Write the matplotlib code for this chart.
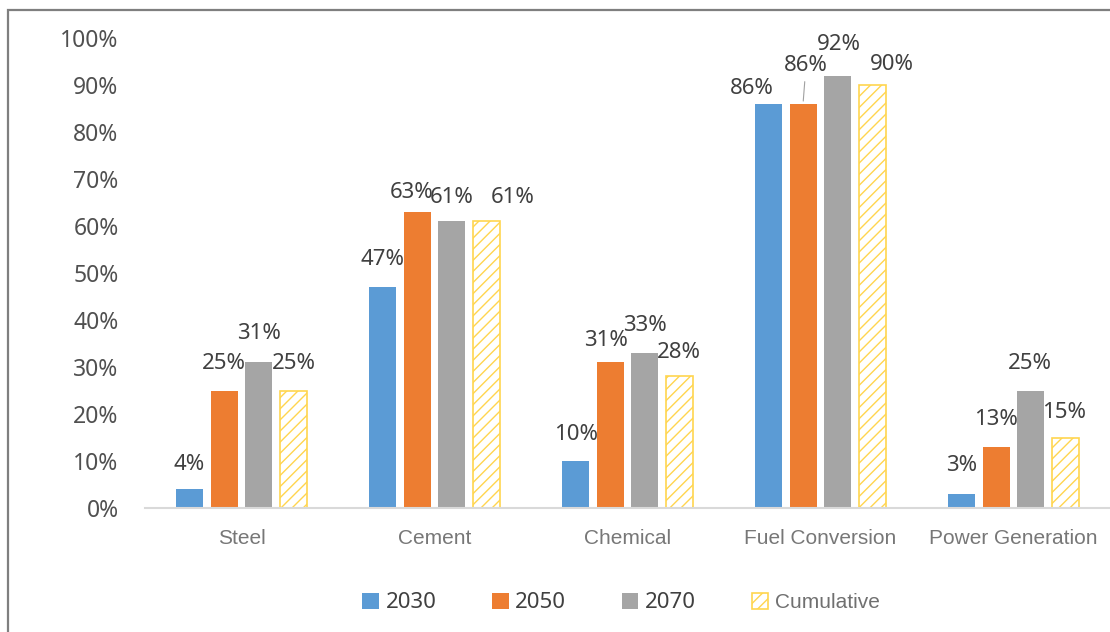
import matplotlib
matplotlib.use("Agg")
import matplotlib.pyplot as plt
from matplotlib.patches import Patch, Rectangle
import numpy as np

categories = ["Steel", "Cement", "Chemical", "Fuel Conversion", "Power Generation"]
series_names = ["2030", "2050", "2070", "Cumulative"]
v2030 = [4, 47, 10, 86, 3]
v2050 = [25, 63, 31, 86, 13]
v2070 = [31, 61, 33, 92, 25]
vcum = [25, 61, 28, 90, 15]
y_ticks = [0, 10, 20, 30, 40, 50, 60, 70, 80, 90, 100]
y_tick_labels = [f"{t}%" for t in y_ticks]

series = [v2030, v2050, v2070, vcum]
colors = ["#5B9BD5", "#ED7D31", "#A5A5A5", "white"]
edges = ["#5B9BD5", "#ED7D31", "#A5A5A5", "#FFD54F"]
hatches = [None, None, None, "///"]

# label offsets (pixels, dx, dy from bar top) per series per category
label_off = [
    [(0, 25), (0, 28), (1, 27), (-16, 15), (1, 28)],
    [(0, 27), (-5, 19), (-4, 22), (3, 38), (0, 27)],
    [(0, 29), (0, 24), (0, 27), (1, 31), (-1, 27)],
    [(0, 27), (26, 24), (-1, 24), (19, 20), (-2, 25)],
]

NUMFONT = "Noto Sans"
plt.rcParams["hatch.linewidth"] = 1.0
fig = plt.figure(figsize=(11.10, 6.32), dpi=100)
ax = fig.add_axes([145 / 1110, 1 - 508 / 632, 965 / 1110, 470 / 632])

x = np.arange(len(categories))
step = 0.181
width = 0.14
label_color = "#404040"
for i, (vals, c, e, h) in enumerate(zip(series, colors, edges, hatches)):
    pos = x + (i - 1.5) * step
    bars = ax.bar(pos, vals, width=width, color=c, edgecolor=e, hatch=h,
                  linewidth=1.2 if h else 0, label=series_names[i], zorder=2)
    for j, (b, v) in enumerate(zip(bars, vals)):
        dx, dy = label_off[i][j]
        xc = b.get_x() + b.get_width() / 2
        ax.annotate(f"{v}%", xy=(xc, v), xytext=(dx, dy), textcoords="offset pixels",
                    ha="center", va="center", fontsize=16, color=label_color,
                    family=NUMFONT, annotation_clip=False)

# leader line for Fuel Conversion 2050 label
fc_x = x[3] + (1 - 1.5) * step
ax.annotate("", xy=(fc_x, v2050[3]), xytext=(fc_x + 0.01, v2050[3] + 5.3),
            arrowprops=dict(arrowstyle="-", color="#A0A0A0", lw=0.8), annotation_clip=False)

ax.set_xlim(-0.5, len(categories) - 0.5)
ax.set_ylim(0, 100)
ax.set_yticks(y_ticks)
ax.set_yticklabels(y_tick_labels, family=NUMFONT, fontsize=16.5, color="#505050")
ax.set_xticks(x)
ax.set_xticklabels(categories, family="Liberation Sans", fontsize=15, color="#777777")
ax.tick_params(axis="y", length=0, pad=19)
ax.tick_params(axis="x", length=0, pad=15)
for s in ["top", "right", "left"]:
    ax.spines[s].set_visible(False)
ax.spines["bottom"].set_color("#D9D9D9")
ax.spines["bottom"].set_linewidth(1.5)
ax.spines["bottom"].set_zorder(3)

handles = [Patch(facecolor=colors[i], edgecolor=edges[i], hatch=hatches[i],
                 linewidth=1.2 if hatches[i] else 0) for i in range(4)]
leg = fig.legend(handles, series_names, loc="center", bbox_to_anchor=(0.5595, 1 - 603 / 632),
                 ncol=4, frameon=False, handlelength=0.75, handleheight=0.75,
                 handletextpad=0.3, columnspacing=2.5, prop={"family": NUMFONT, "size": 16})
for t in leg.get_texts():
    t.set_color("#404040")
leg.get_texts()[3].set_fontfamily("Liberation Sans")
leg.get_texts()[3].set_fontsize(15)
leg.get_texts()[3].set_color("#707070")

fig.patches.append(Rectangle((8 / 1110, -0.2), 1.5, 1.2 - 10 / 632, transform=fig.transFigure,
                             fill=False, edgecolor="#7F7F7F", linewidth=1.6, clip_on=False))

fig.savefig("out.png", dpi=100)
